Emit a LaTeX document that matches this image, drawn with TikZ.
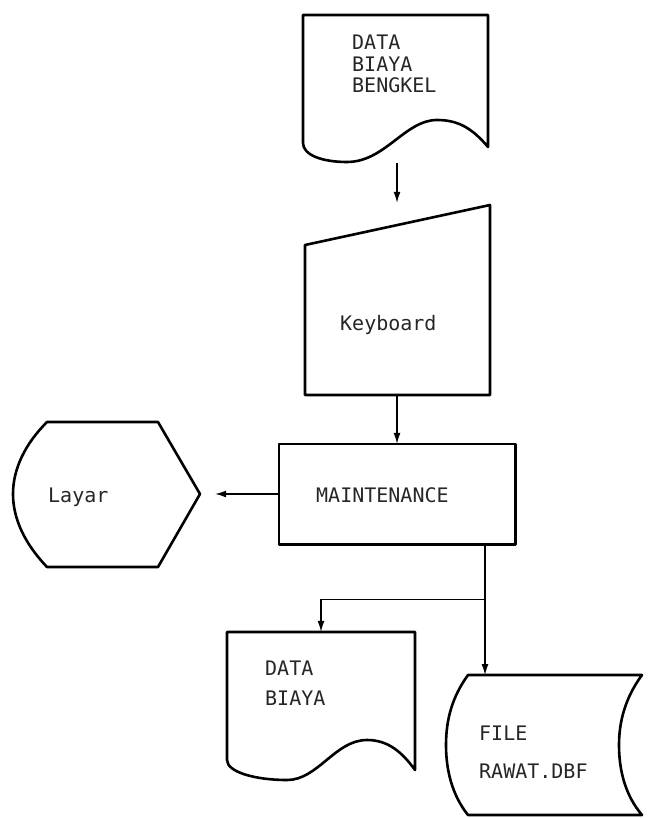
\documentclass[tikz,border=0pt]{standalone}
\usepackage{fontspec}
\setmonofont{DejaVu Sans Mono}
\usetikzlibrary{arrows.meta,calc}
\tikzset{
  shapeline/.style={line width=2.6pt, line join=round, draw=black},
  conn/.style={line width=1.3pt, draw=black},
  arr/.style={conn, -{Latex[length=11pt,width=7pt]}},
  lbl/.style={font=\ttfamily\fontsize{20}{21}\selectfont, anchor=base west, inner sep=0pt, text=black!85},
  area/.style={inner sep=0pt, draw=none, minimum width=#1},
}
\begin{document}
\begin{tikzpicture}[x=1pt,y=-1pt]
\useasboundingbox (0,0) rectangle (647,818);
% --- invisible named areas for the symbols
\node[area=185pt, minimum height=147pt] (doc1) at (397,88.5) {};
\node[area=185pt, minimum height=190pt] (kbd) at (397,300) {};
\node[area=236pt, minimum height=100pt] (maint) at (397,494) {};
\node[area=187pt, minimum height=145pt] (layar) at (106.5,494) {};
\node[area=188pt, minimum height=148pt] (doc2) at (321,706) {};
\node[area=197pt, minimum height=140pt] (file) at (543.5,745) {};
\coordinate (filetop) at (485,675);

% --- shapes
% input document
\draw[shapeline] (303,15) -- (488,15) -- (488,147)
  .. controls (472,128) and (458,120) .. (437,120)
  .. controls (405,120) and (385,162) .. (347,162)
  .. controls (322,162) and (303,155) .. (303,143) -- cycle;
% keyboard (manual input)
\draw[shapeline] (305,245) -- (490,205) -- (490,395) -- (305,395) -- cycle;
% process
\draw[shapeline] (maint.north west) rectangle (maint.south east);
% display
\draw[shapeline] (47,422) -- (158,422) -- (200,494) -- (158,567) -- (47,567)
  .. controls (25,544) and (13,519) .. (13,494)
  .. controls (13,469) and (25,444) .. (47,422) -- cycle;
% output document
\draw[shapeline] (227,632) -- (415,632) -- (415,770)
  .. controls (402,752) and (388,740) .. (367,740)
  .. controls (335,740) and (318,780) .. (287,780)
  .. controls (255,780) and (227,772) .. (227,760) -- cycle;
% stored data
\draw[shapeline] (468,675) -- (642,675)
  .. controls (625,698) and (619,722) .. (619,745)
  .. controls (619,770) and (625,795) .. (642,815)
  -- (468,815)
  .. controls (452,795) and (446,770) .. (446,745)
  .. controls (446,720) and (452,697) .. (468,675) -- cycle;

% --- texts
\node[lbl] (t1a) at (352,50) {DATA};
\node[lbl] (t1b) at (352,72) {BIAYA};
\node[lbl] (t1c) at (352,93) {BENGKEL};
\node[lbl] (tk) at (340,330) {Keyboard};
\node[lbl] (tm) at (316,502) {MAINTENANCE};
\node[lbl] (tl) at (48,502) {Layar};
\node[lbl] (t2a) at (265,675) {DATA};
\node[lbl] (t2b) at (265,705) {BIAYA};
\node[lbl] (t3a) at (479,740) {FILE};
\node[lbl] (t3b) at (479,778) {RAWAT.DBF};

% --- connectors
\draw[arr, shorten <=1pt, shorten >=2pt] (doc1.south) -- (kbd.north);
\draw[arr] (kbd.south) -- (maint.north);
\draw[arr, shorten >=15pt] (maint.west) -- (layar.east);
\draw[arr] (maint.south -| filetop) -- (filetop);
\draw[arr] ($(maint.south -| filetop)+(0,55)$) -| (doc2.north);
\end{tikzpicture}
\end{document}
